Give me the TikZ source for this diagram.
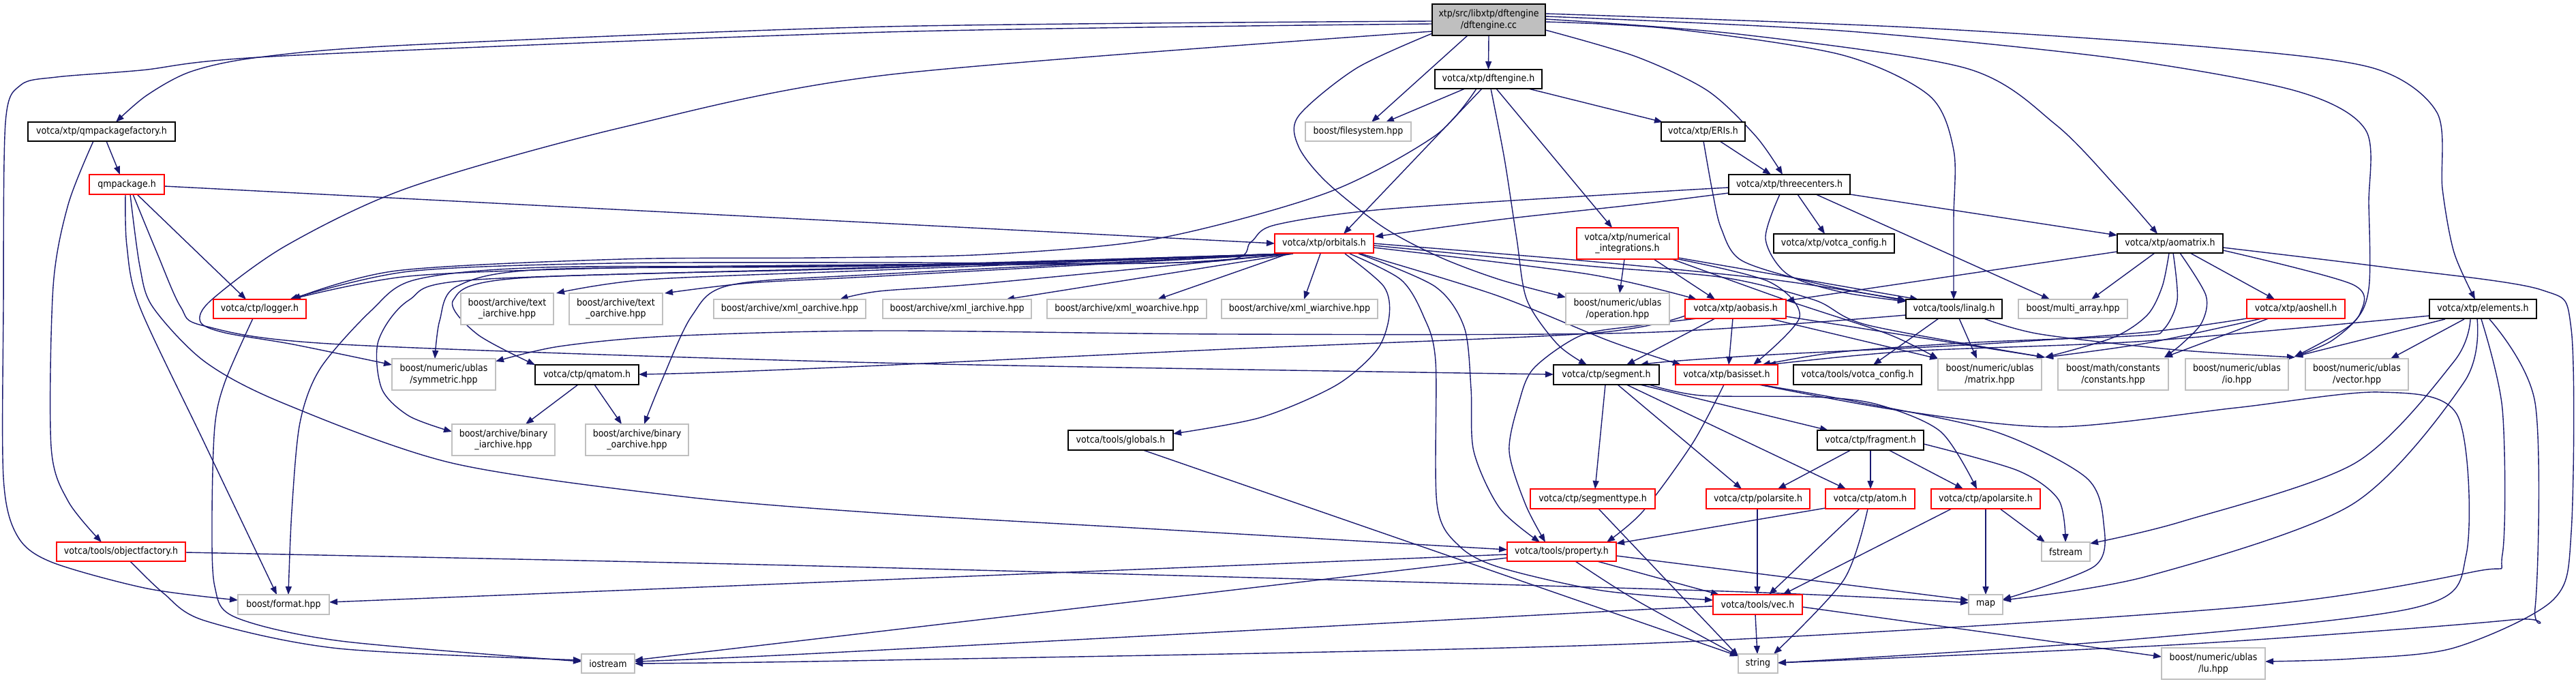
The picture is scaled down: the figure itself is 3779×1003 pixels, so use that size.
\documentclass[tikz,border=0pt]{standalone}
\usepackage{fontspec}
\newfontfamily\nf{DejaVu Sans}[FakeStretch=0.9]
\usetikzlibrary{arrows.meta,calc}
\definecolor{edgec}{HTML}{191970}
\definecolor{gbord}{HTML}{BFBFBF}
\definecolor{rootf}{HTML}{BFBFBF}
\pgfdeclarelayer{bg}
\pgfsetlayers{bg,main}
\tikzset{
 base/.style={inner sep=0pt, outer sep=0pt, anchor=north west, align=center,
   font=\nf\fontsize{14pt}{16.5pt}\selectfont, line width=1.5pt, fill=white},
 bk/.style={base, draw=black},
 rd/.style={base, draw=red},
 gr/.style={base, draw=gbord},
 rt/.style={base, draw=black, fill=rootf},
 edg/.style={draw=edgec, line width=1.4pt, -{Triangle[length=12pt,width=9pt]}},
}
\begin{document}
\begin{tikzpicture}[x=1pt,y=-1pt]
\useasboundingbox (0,0) rectangle (3779,1003);
% nodes
\node[rt, minimum width=166pt, minimum height=46pt] (root) at (2101,6) {xtp/src/libxtp/dftengine\\/dftengine.cc};
\node[bk, minimum width=216pt, minimum height=28pt] (qmpf) at (41,179) {votca/xtp/qmpackagefactory.h};
\node[rd, minimum width=110pt, minimum height=29pt] (qmp) at (131,256) {qmpackage.h};
\node[rd, minimum width=136pt, minimum height=28pt] (logger) at (313,439) {votca/ctp/logger.h};
\node[gr, minimum width=136pt, minimum height=46pt] (tia) at (676,430) {boost/archive/text\\\_iarchive.hpp};
\node[gr, minimum width=137pt, minimum height=46pt] (toa) at (835,430) {boost/archive/text\\\_oarchive.hpp};
\node[gr, minimum width=223pt, minimum height=28pt] (xoa) at (1047,439) {boost/archive/xml\_oarchive.hpp};
\node[gr, minimum width=218pt, minimum height=28pt] (xia) at (1295,439) {boost/archive/xml\_iarchive.hpp};
\node[gr, minimum width=234pt, minimum height=28pt] (xwoa) at (1536,439) {boost/archive/xml\_woarchive.hpp};
\node[gr, minimum width=229pt, minimum height=28pt] (xwia) at (1792,439) {boost/archive/xml\_wiarchive.hpp};
\node[bk, minimum width=157pt, minimum height=28pt] (dfth) at (2105,102) {votca/xtp/dftengine.h};
\node[gr, minimum width=155pt, minimum height=28pt] (fs) at (1915,179) {boost/filesystem.hpp};
\node[bk, minimum width=123pt, minimum height=28pt] (eris) at (2437,179) {votca/xtp/ERIs.h};
\node[bk, minimum width=178pt, minimum height=29pt] (tc) at (2536,256) {votca/xtp/threecenters.h};
\node[bk, minimum width=177pt, minimum height=28pt] (xcfg) at (2602,343) {votca/xtp/votca\_config.h};
\node[bk, minimum width=155pt, minimum height=28pt] (aom) at (3106,343) {votca/xtp/aomatrix.h};
\node[rd, minimum width=145pt, minimum height=28pt] (orb) at (1870,343) {votca/xtp/orbitals.h};
\node[rd, minimum width=149pt, minimum height=46pt] (numi) at (2313,334) {votca/xtp/numerical\\\_integrations.h};
\node[gr, minimum width=152pt, minimum height=46pt] (op) at (2297,430) {boost/numeric/ublas\\/operation.hpp};
\node[rd, minimum width=148pt, minimum height=28pt] (aob) at (2472,439) {votca/xtp/aobasis.h};
\node[bk, minimum width=141pt, minimum height=28pt] (lin) at (2796,439) {votca/tools/linalg.h};
\node[gr, minimum width=160pt, minimum height=28pt] (ma) at (2961,439) {boost/multi\_array.hpp};
\node[rd, minimum width=144pt, minimum height=28pt] (aosh) at (3296,439) {votca/xtp/aoshell.h};
\node[bk, minimum width=157pt, minimum height=28pt] (elem) at (3564,439) {votca/xtp/elements.h};
\node[gr, minimum width=152pt, minimum height=46pt] (sym) at (575,526) {boost/numeric/ublas\\/symmetric.hpp};
\node[bk, minimum width=152pt, minimum height=29pt] (qma) at (785,535) {votca/ctp/qmatom.h};
\node[gr, minimum width=151pt, minimum height=46pt] (bia) at (663,622) {boost/archive/binary\\\_iarchive.hpp};
\node[gr, minimum width=151pt, minimum height=46pt] (boa) at (859,622) {boost/archive/binary\\\_oarchive.hpp};
\node[rd, minimum width=189pt, minimum height=28pt] (objf) at (83,795) {votca/tools/objectfactory.h};
\node[gr, minimum width=134pt, minimum height=29pt] (fmt) at (349,872) {boost/format.hpp};
\node[gr, minimum width=78pt, minimum height=28pt] (ios) at (853,959) {iostream};
\node[bk, minimum width=155pt, minimum height=29pt] (seg) at (2279,535) {votca/ctp/segment.h};
\node[bk, minimum width=154pt, minimum height=29pt] (glob) at (1567,631) {votca/tools/globals.h};
\node[rd, minimum width=183pt, minimum height=29pt] (segt) at (2245,717) {votca/ctp/segmenttype.h};
\node[rd, minimum width=160pt, minimum height=28pt] (prop) at (2211,795) {votca/tools/property.h};
\node[rd, minimum width=150pt, minimum height=29pt] (bs) at (2458,535) {votca/xtp/basisset.h};
\node[bk, minimum width=188pt, minimum height=29pt] (tcfg) at (2631,535) {votca/tools/votca\_config.h};
\node[gr, minimum width=152pt, minimum height=46pt] (mat) at (2843,526) {boost/numeric/ublas\\/matrix.hpp};
\node[gr, minimum width=162pt, minimum height=46pt] (const) at (3019,526) {boost/math/constants\\/constants.hpp};
\node[gr, minimum width=151pt, minimum height=46pt] (io) at (3206,526) {boost/numeric/ublas\\/io.hpp};
\node[gr, minimum width=151pt, minimum height=46pt] (vec) at (3382,526) {boost/numeric/ublas\\/vector.hpp};
\node[bk, minimum width=156pt, minimum height=29pt] (frag) at (2666,631) {votca/ctp/fragment.h};
\node[rd, minimum width=152pt, minimum height=29pt] (pol) at (2503,717) {votca/ctp/polarsite.h};
\node[rd, minimum width=131pt, minimum height=29pt] (atom) at (2678,717) {votca/ctp/atom.h};
\node[rd, minimum width=160pt, minimum height=29pt] (apol) at (2833,717) {votca/ctp/apolarsite.h};
\node[gr, minimum width=71pt, minimum height=28pt] (fst) at (2995,795) {fstream};
\node[gr, minimum width=50pt, minimum height=29pt] (map) at (2888,872) {map};
\node[rd, minimum width=131pt, minimum height=29pt] (vech) at (2513,872) {votca/tools/vec.h};
\node[gr, minimum width=58pt, minimum height=28pt] (str) at (2550,959) {string};
\node[gr, minimum width=152pt, minimum height=46pt] (lu) at (3171,950) {boost/numeric/ublas\\/lu.hpp};
\coordinate (A) at ($(mat.north east)+(5,-2)$);
\coordinate (B) at ($(const.north east)+(-6,-2)$);
\coordinate (C) at ($(io.north east)+(9,-3)$);
\coordinate (Cl) at ($(vec.north west)+(-15,-2)$);
\begin{pgfonlayer}{bg}
\fill[white] (0,0) rectangle (3779,1003);
\tikzset{every plot/.style={smooth,tension=0.5}}
% root
\draw[edg] plot coordinates {($(root.north west)+(0,25)$) (1300,39) (600,66) (380,84) (280,105) (215,140) ($(qmpf.north west)+(129,0)$)};
\draw[edg] plot coordinates {($(root.north west)+(0,29)$) (1300,47) (415,82) (207,103) (83,113) (30,125) (8,180) (5,450) (5,700) (25,785) (75,824) (216,863) ($(fmt.north west)+(0,8)$)};
\draw[edg] plot coordinates {($(root.north west)+(0,40)$) (1300,110) (912,187) (600,275) (420,360) (310,440) (294,472) (330,488) (430,505) ($(sym.north west)+(0,9)$)};
\draw[edg] ($(root.north west)+(52,46)$) -- ($(fs.north west)+(97,0)$);
\draw[edg] ($(dfth.north west)+(44,28)$) -- ($(fs.north west)+(118,0)$);
\draw[edg] (root.south) -- (dfth.north);
\draw[edg] plot coordinates {($(root.north west)+(0,43)$) (1990,100) (1905,170) (1905,215) (1946,267) (2029,333) (2112,377) (2200,410) ($(op.north west)+(0,6)$)};
\draw[edg] plot coordinates {($(root.north west)+(166,38)$) (2400,83) (2505,133) (2576,200) ($(tc.north west)+(79,0)$)};
\draw[edg] plot coordinates {($(root.north west)+(166,26)$) (2450,42) (2700,80) (2830,140) (2866,220) (2866,320) ($(lin.north west)+(70,0)$)};
\draw[edg] plot coordinates {($(root.north west)+(166,22)$) (2550,50) (2884,100) (3016,183) (3110,280) ($(aom.north west)+(59,0)$)};
\draw[edg] plot coordinates {($(root.north west)+(166,18)$) (2700,45) (3100,85) (3367,133) (3470,190) (3475,300) (3475,423) (3450,475) (C)};
\draw[edg] plot coordinates {($(root.north west)+(166,14)$) (2800,40) (3250,70) (3482,100) (3575,165) (3583,277) (3600,370) ($(elem.north west)+(67,0)$)};
% dftengine.h
\draw[edg] ($(dfth.north west)+(137,28)$) -- ($(eris.north west)+(2,0)$);
\draw[edg] ($(dfth.north west)+(69,28)$) -- ($(orb.north west)+(101,0)$);
\draw[edg] plot coordinates {($(dfth.north west)+(61,28)$) (2104,200) (1946,283) (1697,350) (1449,373) (1200,378) (913,380) (582,397) ($(logger.north west)+(116,0)$)};
\draw[edg] ($(dfth.north west)+(90,28)$) -- ($(numi.north west)+(52,0)$);
\draw[edg] plot coordinates {($(dfth.north west)+(82,28)$) (2207,233) (2225,350) (2240,440) (2285,505) ($(seg.north west)+(49,0)$)};
% ERIs, threecenters
\draw[edg] ($(eris.north west)+(86,28)$) -- ($(tc.north west)+(62,0)$);
\draw[edg] plot coordinates {($(eris.north west)+(62,28)$) (2512,280) (2525,335) (2555,382) (2662,415) ($(lin.north west)+(0,2)$)};
\draw[edg] plot coordinates {($(tc.north west)+(0,27)$) (2400,300) (2200,322) ($(orb.north east)+(2,4)$)};
\draw[edg] plot coordinates {($(tc.north west)+(0,19)$) (2400,283) (2029,307) (1870,330) (1835,355) (1795,382) (1500,388) (1290,388) (900,393) (600,405) ($(logger.north west)+(114,0)$)};
\draw[edg] ($(tc.north west)+(101,29)$) -- ($(xcfg.north west)+(75,0)$);
\draw[edg] ($(tc.north west)+(128,29)$) -- ($(ma.north west)+(46,0)$);
\draw[edg] ($(tc.north west)+(178,29)$) -- ($(aom.north west)+(0,2)$);
\draw[edg] plot coordinates {($(tc.north west)+(75,29)$) (2590,350) (2622,402) (2700,428) ($(lin.north west)+(0,3)$)};
% qmpackagefactory, qmpackage
\draw[edg] ($(qmpf.north west)+(115,28)$) -- ($(qmp.north west)+(45,0)$);
\draw[edg] plot coordinates {($(qmpf.north west)+(96,28)$) (100,300) (78,420) (75,655) (100,735) ($(objf.north west)+(66,0)$)};
\draw[edg] ($(qmp.north west)+(110,17)$) -- ($(orb.north west)+(0,14)$);
\draw[edg] ($(qmp.north west)+(70,29)$) -- ($(logger.north west)+(48,0)$);
\draw[edg] plot coordinates {($(qmp.north west)+(53,29)$) (186,360) (205,450) (300,650) ($(fmt.north west)+(57,0)$)};
\draw[edg] plot coordinates {($(qmp.north west)+(60,29)$) (205,390) (224,450) (300,530) (415,591) (663,679) (1000,728) (1300,753) (1697,776) ($(prop.north west)+(0,11)$)};
\draw[edg] plot coordinates {($(qmp.north west)+(64,29)$) (230,370) (265,450) (300,478) (500,505) (1290,532) ($(seg.north west)+(0,14)$)};
% logger, objectfactory
\draw[edg] plot coordinates {($(logger.north west)+(58,28)$) (330,560) (315,626) (311,760) (315,860) (345,905) (500,940) ($(ios.north west)+(0,11)$)};
\draw[edg] plot coordinates {($(objf.north west)+(108,28)$) (240,870) (300,910) (497,951) ($(ios.north west)+(0,9)$)};
\draw[edg] plot coordinates {($(objf.north west)+(189,15)$) (1200,830) (2500,866) ($(map.north west)+(0,12)$)};
% orbitals
\draw[edg] plot coordinates {($(orb.north west)+(20,29)$) (1700,386) (1290,385) (900,386) (600,398) ($(logger.north west)+(112,0)$)};
\draw[edg] plot coordinates {($(orb.north west)+(22,29)$) (1290,396) (950,410) ($(tia.north east)+(4,0)$)};
\draw[edg] plot coordinates {($(orb.north west)+(24,29)$) (1290,405) (1100,415) ($(toa.north east)+(3,0)$)};
\draw[edg] plot coordinates {($(orb.north west)+(26,29)$) (1450,415) (1290,427) ($(xoa.north west)+(185,0)$)};
\draw[edg] plot coordinates {($(orb.north west)+(18,29)$) (1290,390) (800,395) (670,420) (645,470) ($(sym.north west)+(63,0)$)};
\draw[edg] plot coordinates {($(orb.north west)+(18,29)$) (1290,393) (760,408) (665,440) (700,490) ($(qma.north west)+(0,0)$)};
\draw[edg] plot coordinates {($(orb.north west)+(18,29)$) (1290,392) (700,410) (600,440) (555,500) (560,570) (600,610) ($(bia.north west)+(0,11)$)};
\draw[edg] plot coordinates {($(orb.north west)+(22,29)$) (1290,402) (1072,418) (1015,463) (970,560) ($(boa.north west)+(86,0)$)};
\draw[edg] plot coordinates {($(orb.north west)+(20,29)$) (1290,389) (800,392) (610,410) (545,455) (470,540) (440,620) (428,750) ($(fmt.north west)+(74,0)$)};
\draw[edg] ($(orb.north west)+(27,29)$) -- ($(xia.north west)+(181,0)$);
\draw[edg] ($(orb.north west)+(20,29)$) -- ($(xwoa.north west)+(162,0)$);
\draw[edg] ($(orb.north west)+(67,29)$) -- ($(xwia.north west)+(121,0)$);
\draw[edg] plot coordinates {($(orb.north west)+(103,29)$) (2030,420) (2038,463) (2020,513) (1960,565) (1850,612) ($(glob.north west)+(154,5)$)};
\draw[edg] plot coordinates {($(orb.north west)+(110,29)$) (2055,410) (2088,463) (2106,530) (2108,739) (2140,800) (2200,832) (2350,866) ($(vech.north west)+(0,8)$)};
\draw[edg] plot coordinates {($(orb.north west)+(123,29)$) (2105,420) (2148,480) (2158,570) (2162,662) (2200,745) ($(prop.north west)+(48,0)$)};
\draw[edg] plot coordinates {($(orb.north west)+(126,29)$) (2195,433) (2361,500) ($(bs.north west)+(8,0)$)};
\draw[edg] plot coordinates {($(orb.north west)+(145,20)$) (2330,402) ($(aob.north west)+(17,0)$)};
\draw[edg] plot coordinates {($(orb.north west)+(145,14)$) (2330,383) (2600,410) ($(lin.north west)+(0,1)$)};
\draw[edg] plot coordinates {($(orb.north west)+(145,17)$) (2330,390) (2529,407) (2662,440) (2741,477) (A)};
% numerical integrations
\draw[edg] ($(numi.north west)+(70,46)$) -- ($(op.north west)+(79,0)$);
\draw[edg] ($(numi.north west)+(113,46)$) -- ($(aob.north west)+(44,0)$);
\draw[edg] ($(numi.north west)+(149,44)$) -- ($(lin.north west)+(18,0)$);
\draw[edg] plot coordinates {($(numi.north west)+(149,46)$) (2595,413) (2640,465) ($(bs.north west)+(114,0)$)};
\draw[edg] plot coordinates {($(numi.north west)+(140,46)$) (2620,440) (2770,490) ($(mat.north west)+(0,0)$)};
% aobasis
\draw[edg] ($(aob.north west)+(44,28)$) -- ($(seg.north west)+(107,0)$);
\draw[edg] ($(aob.north west)+(70,28)$) -- ($(bs.north west)+(78,0)$);
\draw[edg] ($(aob.north west)+(123,28)$) -- ($(mat.north west)+(0,0)$);
\draw[edg] ($(aob.north west)+(148,25)$) -- (A);
\draw[edg] plot coordinates {($(aob.north west)+(0,24)$) (2330,489) (1800,512) (1290,536) (1050,546) ($(qma.north west)+(152,14)$)};
\draw[edg] plot coordinates {($(aob.north west)+(18,28)$) (2400,478) (2319,492) (2250,540) (2228,591) (2214,662) (2238,740) ($(prop.north west)+(56,0)$)};
% linalg
\draw[edg] ($(lin.north west)+(48,28)$) -- ($(tcfg.north west)+(117,0)$);
\draw[edg] ($(lin.north west)+(78,28)$) -- ($(mat.north west)+(57,0)$);
\draw[edg] plot coordinates {($(lin.north west)+(0,23)$) (2400,488) (1800,490) (1290,485) (980,493) (820,508) ($(sym.north west)+(152,4)$)};
\draw[edg] plot coordinates {($(lin.north west)+(114,28)$) (2993,490) (3192,513) (Cl)};
% aomatrix
\draw[edg] ($(aom.north west)+(0,26)$) -- ($(aob.north west)+(148,2)$);
\draw[edg] ($(aom.north west)+(55,28)$) -- ($(ma.north west)+(107,0)$);
\draw[edg] ($(aom.north west)+(107,28)$) -- ($(aosh.north west)+(41,0)$);
\draw[edg] plot coordinates {($(aom.north west)+(76,28)$) (3172,420) (3150,462) (3100,495) (A)};
\draw[edg] plot coordinates {($(aom.north west)+(92,28)$) (3236,433) (3230,473) (3200,505) (B)};
\draw[edg] plot coordinates {($(aom.north west)+(82,28)$) (3194,440) (3174,483) (3140,492) (2900,502) (2700,516) ($(bs.north west)+(127,0)$)};
\draw[edg] plot coordinates {($(aom.north west)+(155,20)$) (3500,392) (3728,425) (3772,483) (3772,780) (3745,880) (3600,950) (3450,966) ($(lu.north west)+(152,20)$)};
\draw[edg] plot coordinates {($(aom.north west)+(155,24)$) (3451,417) (3462,460) (3420,500) (C)};
% aoshell
\draw[edg] plot coordinates {($(aosh.north west)+(0,28)$) (3150,487) (2900,505) (2600,520) (2450,530) ($(seg.north west)+(127,0)$)};
\draw[edg] plot coordinates {($(aosh.north west)+(22,28)$) (3150,503) (A)};
\draw[edg] ($(aosh.north west)+(32,28)$) -- (B);
% elements
\draw[edg] plot coordinates {($(elem.north west)+(0,24)$) (3150,500) (2800,515) ($(bs.north west)+(135,0)$)};
\draw[edg] ($(elem.north west)+(23,29)$) -- (C);
\draw[edg] ($(elem.north west)+(51,29)$) -- ($(vec.north west)+(125,0)$);
\draw[edg] plot coordinates {($(elem.north west)+(60,29)$) (3600,530) (3455,679) (3200,765) ($(fst.north west)+(71,2)$)};
\draw[edg] plot coordinates {($(elem.north west)+(70,29)$) (3615,560) (3450,740) (3150,845) ($(map.north west)+(50,8)$)};
\draw[edg] plot coordinates {($(elem.north west)+(76,29)$) (3671,600) (3671,813) (3631,838) (3280,891) (2400,944) (1300,968) ($(ios.north west)+(78,14)$)};
\draw[edg] plot coordinates {($(elem.north west)+(88,29)$) (3719,591) (3719,891) (3684,909) (3200,945) ($(str.north west)+(58,13)$)};
% basisset
\draw[edg] plot coordinates {($(bs.north west)+(71,29)$) (2483,650) (2410,750) ($(prop.north west)+(146,0)$)};
\draw[edg] plot coordinates {($(bs.north west)+(122,29)$) (2787,602) (3016,626) (3280,598) (3491,575) (3605,609) (3618,813) (3543,891) (3100,940) ($(str.north west)+(58,13)$)};
\draw[edg] plot coordinates {($(bs.north west)+(124,29)$) (2728,590) (2927,633) (3060,700) (3086,767) (3073,830) ($(map.north west)+(50,7)$)};
% segment
\draw[edg] ($(seg.north west)+(76,29)$) -- ($(segt.north west)+(95,0)$);
\draw[edg] ($(seg.north west)+(94,29)$) -- ($(pol.north west)+(52,0)$);
\draw[edg] ($(seg.north west)+(107,29)$) -- ($(atom.north west)+(30,0)$);
\draw[edg] ($(seg.north west)+(127,29)$) -- ($(frag.north west)+(16,0)$);
\draw[edg] plot coordinates {($(seg.north west)+(140,29)$) (2496,580) (2662,582) (2754,593) (2847,633) ($(apol.north west)+(67,0)$)};
% fragment
\draw[edg] ($(frag.north west)+(49,29)$) -- ($(pol.north west)+(105,0)$);
\draw[edg] ($(frag.north west)+(78,29)$) -- ($(atom.north west)+(66,0)$);
\draw[edg] ($(frag.north west)+(105,29)$) -- ($(apol.north west)+(47,0)$);
\draw[edg] plot coordinates {($(frag.north west)+(156,20)$) (2960,690) (3020,733) ($(fst.north west)+(35,0)$)};
% others
\draw[edg] ($(segt.north west)+(100,29)$) -- ($(str.north west)+(0,3)$);
\draw[edg] ($(glob.north west)+(110,29)$) -- ($(str.north west)+(0,3)$);
\draw[edg] ($(prop.north west)+(0,18)$) -- ($(fmt.north west)+(134,11)$);
\draw[edg] ($(prop.north west)+(0,23)$) -- ($(ios.north west)+(78,9)$);
\draw[edg] ($(prop.north west)+(132,28)$) -- ($(vech.north west)+(9,0)$);
\draw[edg] ($(prop.north west)+(160,20)$) -- ($(map.north west)+(0,8)$);
\draw[edg] plot coordinates {($(prop.north west)+(100,28)$) (2400,880) ($(str.north west)+(0,3)$)};
\draw[edg] ($(atom.north west)+(0,28)$) -- ($(prop.north west)+(160,2)$);
\draw[edg] ($(atom.north west)+(50,29)$) -- ($(vech.north west)+(82,0)$);
\draw[edg] plot coordinates {($(atom.north west)+(62,29)$) (2705,850) ($(str.north west)+(52,0)$)};
\draw[edg] ($(pol.north west)+(75,29)$) -- ($(vech.north west)+(65,0)$);
\draw[edg] ($(apol.north west)+(30,29)$) -- ($(vech.north west)+(102,0)$);
\draw[edg] ($(apol.north west)+(80,29)$) -- ($(map.north west)+(25,0)$);
\draw[edg] ($(apol.north west)+(101,29)$) -- ($(fst.north west)+(5,0)$);
\draw[edg] ($(vech.north west)+(62,29)$) -- ($(str.north west)+(28,0)$);
\draw[edg] ($(vech.north west)+(131,18)$) -- ($(lu.north west)+(0,13)$);
\draw[edg] plot coordinates {($(vech.north west)+(0,17)$) (2330,898) (1200,958) ($(ios.north west)+(78,11)$)};
\draw[edg] ($(qma.north west)+(63,29)$) -- ($(bia.north west)+(108,0)$);
\draw[edg] ($(qma.north west)+(87,29)$) -- ($(boa.north west)+(53,0)$);
\end{pgfonlayer}
\end{tikzpicture}
\end{document}
